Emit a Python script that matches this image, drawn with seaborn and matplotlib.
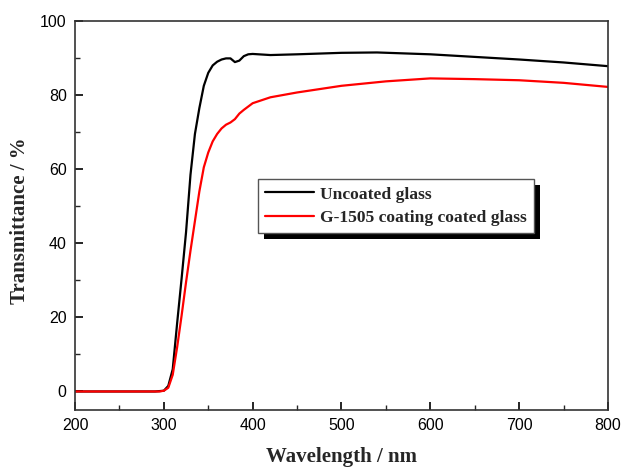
import numpy as np
import pandas as pd
import matplotlib
matplotlib.use("Agg")
import matplotlib.pyplot as plt
from matplotlib.ticker import MultipleLocator
from matplotlib.patches import Rectangle
import seaborn as sns

# Data
wl_uncoated = [200, 250, 290, 300, 305, 310, 315, 320, 325, 330, 335, 340, 345, 350, 355,
               360, 365, 370, 375, 380, 385, 390, 395, 400, 420, 450, 500, 540, 600,
               650, 700, 750, 800]
t_uncoated = [0, 0, 0, 0.2, 1.5, 6, 18.5, 30.5, 43, 58.5, 69.5, 76.5, 82.5, 86, 88,
              89, 89.6, 89.9, 89.9, 88.9, 89.3, 90.5, 91, 91.1, 90.8, 91, 91.4, 91.5, 91,
              90.3, 89.6, 88.8, 87.8]

wl_coated = [200, 250, 295, 300, 305, 310, 315, 320, 325, 330, 335, 340, 345, 350, 355,
             360, 365, 370, 375, 380, 385, 390, 400, 420, 450, 500, 550, 600, 650,
             700, 750, 800]
t_coated = [0, 0, 0, 0.2, 1, 4.5, 12, 20.5, 29.5, 38, 46, 54, 60.5, 64.5, 67.5,
            69.5, 71, 72, 72.6, 73.5, 75, 76, 77.8, 79.4, 80.7, 82.5, 83.7, 84.5, 84.3,
            84, 83.3, 82.2]

labels = ["Uncoated glass", "G-1505 coating coated glass"]
colors = ["black", "red"]

df = pd.concat([
    pd.DataFrame({"Wavelength": wl_uncoated, "T": t_uncoated, "Sample": labels[0]}),
    pd.DataFrame({"Wavelength": wl_coated, "T": t_coated, "Sample": labels[1]}),
])

sns.set_style("ticks")
plt.rcParams["font.family"] = ["Liberation Sans", "DejaVu Sans"]

fig = plt.figure(figsize=(6.21, 4.69), dpi=100)
ax = fig.add_axes([0.1208, 0.1258, 0.8582, 0.8295])

sns.lineplot(data=df, x="Wavelength", y="T", hue="Sample",
             palette=dict(zip(labels, colors)), linewidth=1.6,
             ax=ax, legend=False, sort=False, estimator=None)

for lab, col in zip(labels, colors):
    ax.plot([], [], color=col, linewidth=1.6, label=lab)

ax.set_xlim(200, 800)
ax.set_ylim(-5, 100)
ax.xaxis.set_major_locator(MultipleLocator(100))
ax.xaxis.set_minor_locator(MultipleLocator(50))
ax.yaxis.set_major_locator(MultipleLocator(20))
ax.yaxis.set_minor_locator(MultipleLocator(10))
ax.tick_params(which="major", direction="in", length=6, width=1.2, labelsize=11.5,
               top=False, right=False, colors="black", pad=6)
ax.tick_params(which="minor", direction="in", length=3.5, width=1.0,
               top=False, right=False)
for s in ax.spines.values():
    s.set_linewidth(1.2)
    s.set_color("#333333")

ax.set_xlabel("Wavelength / nm", fontfamily="Liberation Serif", fontweight="bold",
              fontsize=15, labelpad=10)
ax.set_ylabel("Transmittance / %", fontfamily="Liberation Serif", fontweight="bold",
              fontsize=15)
ax.yaxis.set_label_coords(-0.085, 0.486)

leg = ax.legend(loc="upper left", bbox_to_anchor=(0.343, 0.593),
                prop={"family": "Liberation Serif", "weight": "bold", "size": 12.6},
                frameon=True, fancybox=False, shadow=False,
                borderpad=0.4, handlelength=2.8, labelspacing=0.42, handletextpad=0.35,
                borderaxespad=0)
leg.get_frame().set_edgecolor("#555555")
leg.get_frame().set_linewidth(1.0)
leg.get_frame().set_alpha(1)
leg.set_zorder(6)

# drop shadow behind the legend box
fig.canvas.draw()
bb = leg.get_frame().get_window_extent()
inv = ax.transAxes.inverted()
(x0, y0) = inv.transform((bb.x0 + 6, bb.y0 - 6))
(x1, y1) = inv.transform((bb.x1 + 6, bb.y1 - 6))
ax.add_patch(Rectangle((x0, y0), x1 - x0, y1 - y0, transform=ax.transAxes,
                       facecolor="black", edgecolor="none", zorder=5.5, clip_on=False))

fig.savefig("out.png", dpi=100)
